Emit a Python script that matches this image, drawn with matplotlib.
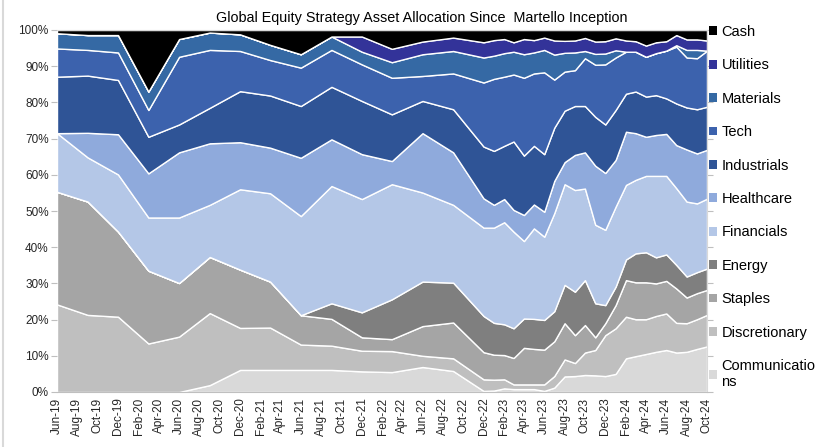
import numpy as np
import pandas as pd
import matplotlib
matplotlib.use('Agg')
import matplotlib.pyplot as plt
import matplotlib.dates as mdates
from matplotlib.patches import Patch
from matplotlib.lines import Line2D
from matplotlib.ticker import PercentFormatter, MultipleLocator

plt.rcParams['font.family'] = ['Liberation Sans', 'DejaVu Sans']

# quarterly to Dec-22, monthly after that
dates = ['2019-06', '2019-09', '2019-12', '2020-03', '2020-06', '2020-09', '2020-12',
         '2021-03', '2021-06', '2021-09', '2021-12', '2022-03', '2022-06', '2022-09',
         '2022-12', '2023-01', '2023-02', '2023-03', '2023-04', '2023-05', '2023-06',
         '2023-07', '2023-08', '2023-09', '2023-10', '2023-11', '2023-12', '2024-01',
         '2024-02', '2024-03', '2024-04', '2024-05', '2024-06', '2024-07', '2024-08',
         '2024-09', '2024-10']

communications = [0, 0, 0, 0, 0, 1.9, 6.1, 6.1, 6.1, 6.1, 5.7, 5.5, 6.9, 5.8, 0.3, 0.4, 1.0, 0.8, 0.8,
                  0.8, 0.3, 1.2, 4.3, 4.4, 4.7, 4.6, 4.4, 5.0, 9.3, 9.9, 10.5, 11.1, 11.6, 10.9, 11.1, 11.9, 12.6]
discretionary = [24.2, 21.3, 20.8, 13.4, 15.3, 19.9, 11.6, 11.7, 7.0, 6.7, 5.7, 5.8, 3.1, 3.5, 3.2, 3.0, 2.5, 1.3, 1.3,
                 1.3, 1.8, 3.2, 4.7, 3.6, 6.2, 7.0, 11.3, 12.6, 11.5, 10.2, 9.6, 9.9, 10.1, 8.2, 7.9, 8.2, 8.7]
staples = [31.1, 31.3, 23.5, 20.1, 14.8, 15.5, 16.1, 12.7, 8.1, 7.4, 3.7, 3.3, 8.2, 9.9, 7.5, 6.9, 6.7, 7.3, 10.1,
           9.8, 9.6, 9.6, 10.0, 7.7, 7.6, 3.5, 3.3, 6.4, 10.1, 10.2, 10.2, 9.0, 9.0, 9.5, 7.1, 7.2, 6.9]
energy = [0, 0, 0, 0, 0, 0, 0, 0, 0, 4.3, 6.9, 11.0, 12.3, 11.0, 10.0, 8.8, 8.5, 8.2, 8.1,
          8.3, 8.2, 8.3, 10.6, 12.0, 12.4, 9.4, 5.0, 5.1, 5.7, 8.0, 8.3, 7.2, 7.3, 6.5, 5.8, 5.8, 5.9]
financials = [16.2, 12.2, 15.8, 14.7, 18.1, 14.4, 22.2, 24.4, 27.4, 32.4, 31.3, 31.8, 24.6, 21.5, 24.4, 26.3, 28.2, 26.7, 21.4,
              25.0, 23.0, 27.1, 27.8, 28.1, 25.3, 21.7, 20.8, 22.1, 20.6, 20.3, 21.1, 22.5, 21.7, 21.2, 20.7, 19.0, 19.3]
healthcare = [0, 6.8, 11.1, 12.2, 18.0, 17.0, 13.0, 12.6, 16.1, 12.9, 12.4, 6.4, 16.4, 14.5, 8.1, 6.3, 6.4, 6.0, 7.2,
              6.6, 6.9, 8.9, 6.1, 9.7, 10.0, 16.3, 15.7, 12.9, 14.7, 12.9, 10.8, 11.3, 11.6, 11.9, 14.4, 13.8, 13.5]
industrials = [15.6, 15.8, 15.0, 10.1, 7.7, 9.8, 14.1, 14.4, 14.3, 14.5, 14.7, 12.9, 8.9, 11.9, 14.3, 14.9, 14.7, 18.9, 16.4,
               16.2, 15.9, 14.7, 14.2, 13.5, 12.8, 13.5, 13.4, 13.8, 10.5, 11.5, 11.1, 11.0, 9.8, 11.5, 11.6, 12.2, 11.9]
tech = [7.8, 7.1, 7.6, 7.4, 18.7, 16.0, 11.1, 9.8, 10.6, 10.2, 10.1, 10.1, 6.9, 9.9, 17.7, 19.9, 19.1, 18.5, 21.5,
        20.0, 22.6, 13.3, 10.8, 9.9, 13.2, 14.4, 16.6, 14.5, 11.6, 11.0, 11.0, 11.6, 13.2, 15.7, 13.8, 14.1, 15.5]
materials = [4.2, 4.1, 4.8, 5.1, 4.9, 4.8, 4.6, 4.2, 3.7, 3.7, 3.5, 4.3, 6.0, 6.2, 6.9, 6.4, 6.5, 6.3, 6.5,
             5.8, 6.2, 6.9, 5.2, 4.9, 2.0, 3.0, 3.0, 2.0, 0, 0, 0, 0, 0, 0.4, 2.1, 2.3, 0]
utilities = [0, 0, 0, 0, 0, 0, 0, 0, 0, 0, 4.2, 3.7, 3.5, 3.7, 4.2, 4.3, 3.9, 2.6, 4.2,
             3.4, 3.4, 3.9, 3.3, 3.3, 3.6, 3.4, 3.4, 3.3, 3.1, 2.9, 3.1, 3.0, 2.6, 2.8, 2.9, 2.9, 2.8]
cash = [0.9, 1.4, 1.4, 17.0, 2.5, 0.7, 1.2, 4.1, 6.7, 1.8, 1.8, 5.2, 3.2, 2.1, 3.4, 2.8, 2.5, 3.4, 2.5,
        2.8, 2.1, 2.9, 3.0, 2.9, 2.2, 3.2, 3.1, 2.3, 2.9, 3.1, 4.3, 3.4, 3.1, 1.4, 2.6, 2.6, 2.9]

labels = ['Communicatio\nns', 'Discretionary', 'Staples', 'Energy', 'Financials', 'Healthcare',
          'Industrials', 'Tech', 'Materials', 'Utilities', 'Cash']
colors = ['#d9d9d9', '#bfbfbf', '#a5a5a5', '#7f7f7f', '#b4c7e7', '#8faadc',
          '#2f5496', '#3c62ad', '#3569a4', '#333399', '#000000']

x = pd.to_datetime(dates, format='%Y-%m')
series = [communications, discretionary, staples, energy, financials, healthcare,
          industrials, tech, materials, utilities, cash]

fig = plt.figure(figsize=(8.15, 4.47), dpi=100)
ax = fig.add_axes([57/815, 55/447, 650/815, 362/447])

ax.stackplot(x, *series, colors=colors, edgecolor='white', linewidth=1.0)

ax.set_xlim(x[0], x[-1])
ax.set_ylim(0, 100)
ax.yaxis.set_major_locator(MultipleLocator(10))
ax.yaxis.set_major_formatter(PercentFormatter(100, decimals=0))
ax.xaxis.set_major_locator(mdates.MonthLocator(bymonth=[2, 4, 6, 8, 10, 12]))
ax.xaxis.set_major_formatter(mdates.DateFormatter('%b-%y'))
plt.setp(ax.get_xticklabels(), rotation=90, fontsize=8.5, color='#262626')
plt.setp(ax.get_yticklabels(), fontsize=8.5, color='#262626')

ax.tick_params(axis='y', which='both', left=True, right=True, length=4, color='#bfbfbf', pad=2)
ax.tick_params(axis='x', length=0, pad=4)
ax.spines['left'].set_visible(False)
ax.spines['bottom'].set_color('#bfbfbf')
ax.spines['top'].set_color('#d9d9d9')
ax.spines['right'].set_color('#d9d9d9')

handles = [Patch(facecolor=c, edgecolor='none') for c in colors]
fig.legend(handles[::-1], labels[::-1], loc='upper left', bbox_to_anchor=(709/815, 1 - 25/447),
           frameon=False, fontsize=10.5, handlelength=0.55, handleheight=0.55, handletextpad=0.3,
           labelspacing=1.33, borderpad=0, borderaxespad=0)

fig.text(422/815, 1 - 18/447, 'Global Equity Strategy Asset Allocation Since  Martello Inception',
         ha='center', va='center', fontsize=10.4, color='#000000')

fig.add_artist(Line2D([3/815, 3/815], [0, 1], color='#d9d9d9', linewidth=1.5))

fig.savefig('out.png', dpi=100)
